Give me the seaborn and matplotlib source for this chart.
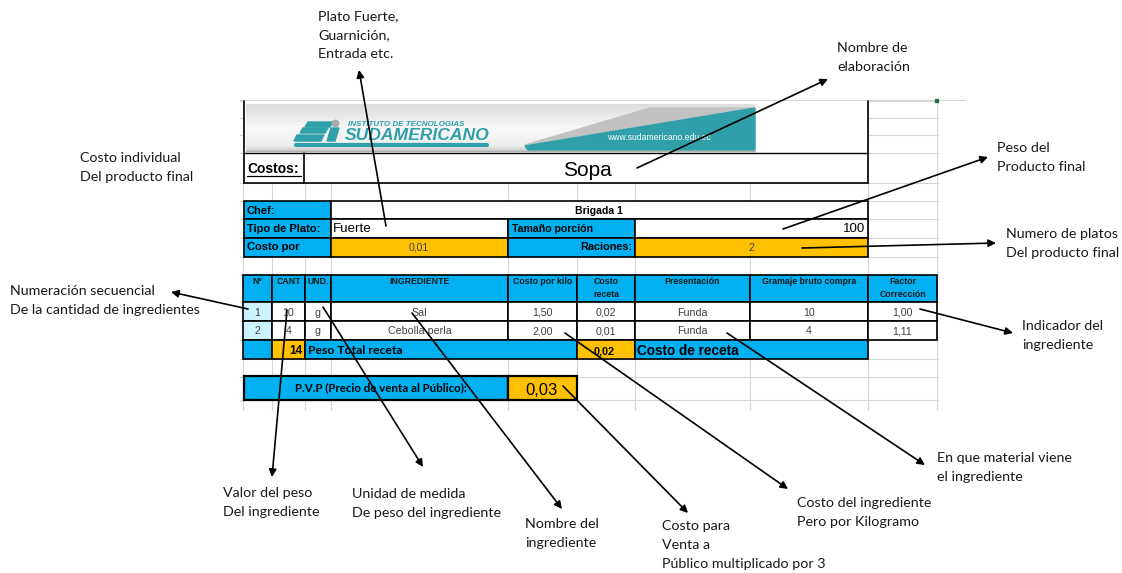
import numpy as np
import matplotlib
matplotlib.use("Agg")
import matplotlib.pyplot as plt
import seaborn as sns
from matplotlib.patches import Rectangle, Polygon, Circle

sns.set_theme(style="white")
plt.rcParams['font.family'] = ['Liberation Sans', 'DejaVu Sans']

# ---------------- data ----------------
dish_name = "Sopa"
chef_name = "Brigada 1"
dish_type = "Fuerte"
portion_size = "100"
unit_cost = "0,01"
servings = "2"
headers = ["N°", "CANT", "UND.", "INGREDIENTE", "Costo por kilo", "Costo\nreceta",
           "Presentación", "Gramaje bruto compra", "Factor\nCorrección"]
item_no = ["1", "2"]
quantity = ["10", "4"]
units = ["g", "g"]
ingredients = ["Sal", "Cebolla perla"]
cost_per_kilo = ["1,50", "2,00"]
recipe_cost = ["0,02", "0,01"]
presentation = ["Funda", "Funda"]
gross_weight = ["10", "4"]
correction_factor = ["1,00", "1,11"]
total_weight = "14"
total_cost = "0,02"
pvp_value = "0,03"

notes = [
    "Plato Fuerte,\nGuarnición,\nEntrada etc.",
    "Nombre de\nelaboración",
    "Costo individual\nDel producto final",
    "Peso del\nProducto final",
    "Numero de platos\nDel producto final",
    "Numeración secuencial\nDe la cantidad de ingredientes",
    "Indicador del\ningrediente",
    "En que material viene\nel ingrediente",
    "Valor del peso\nDel ingrediente",
    "Unidad de medida\nDe peso del ingrediente",
    "Nombre del\ningrediente",
    "Costo para\nVenta a\nPúblico multiplicado por 3",
    "Costo del ingrediente\nPero por Kilogramo",
]

# ---------------- layout / style ----------------
W, H = 1122, 573
BLUE = "#00b0f0"
ORANGE = "#ffc000"
CYAN = "#cdf3fd"
TEAL = "#2fa0aa"
GRID = "#d6d6d6"
TXT = "#404040"
ANN_FONT = ["Lato", "DejaVu Sans"]

fig = plt.figure(figsize=(W / 100, H / 100), dpi=100)
ax = fig.add_axes([0, 0, 1, 1])
ax.set_xlim(0, W)
ax.set_ylim(H, 0)
ax.axis("off")


def cell(x0, x1, y0, y1, fc="white", ec="black", lw=1.2, z=2):
    ax.add_patch(Rectangle((x0, y0), x1 - x0, y1 - y0, facecolor=fc,
                           edgecolor=ec, lw=lw, zorder=z))


def txt(x, y, s, size, ha="left", weight="normal", color="black", va="baseline", **kw):
    ax.text(x, y, s, fontsize=size, ha=ha, va=va, fontweight=weight, color=color,
            zorder=6, **kw)


# spreadsheet gridlines
cols = [243, 272, 305, 331, 508, 577, 635, 750, 868, 937]
rows = [101, 118, 135, 153, 183, 201, 219, 238, 257, 275, 302, 321, 340, 359, 377, 400]
for x in cols:
    ax.plot([x, x], [100, 410], color=GRID, lw=0.8, zorder=1)
for y in rows:
    ax.plot([240, 938], [y, y], color=GRID, lw=0.8, zorder=1)
ax.plot([240, 965], [100, 100], color=GRID, lw=0.8, zorder=1)
ax.add_patch(Rectangle((935, 99), 3, 3, color="#217346", zorder=3))

# ---------------- top block (logo + Costos) ----------------
cell(244, 868, 101, 183, fc="white", ec="none", lw=0)
grad = np.linspace(0, 1, 60)[:, None]
vals = np.interp(grad, [0, 0.55, 0.9, 1], [0.87, 0.97, 0.93, 0.80])
ax.imshow(np.dstack([vals, vals, vals]) * np.ones((1, 10, 1)),
          extent=(246, 755, 151, 104), aspect="auto", zorder=2.5)
# logo stripes
for (xa, xb, ya, yb) in [(306, 331, 122, 127), (301, 326, 128, 133), (295, 322, 135, 141)]:
    ax.add_patch(Polygon([(xa + 2, ya), (xb + 2, ya), (xb - 1, yb), (xa - 1, yb)],
                         closed=True, color=TEAL, zorder=3))
ax.add_patch(Circle((335.5, 123.5), 3.2, color="#a9a9a9", zorder=3))
ax.add_patch(Polygon([(331, 128), (339, 128), (335, 141), (327, 141)], closed=True,
                     color=TEAL, zorder=3))
ax.plot([296, 487], [145, 145], color=TEAL, lw=3, solid_capstyle="round", zorder=3)
txt(348, 126, "INSTITUTO DE TECNOLOGIAS", 5.8, weight="bold", color=TEAL, style="italic")
txt(345, 140.5, "SUDAMERICANO", 12.6, weight="bold", color=TEAL, style="italic")
# right banner
ax.add_patch(Polygon([(525, 145), (650, 108), (755, 108)], closed=True,
                     color="#c2c2c2", zorder=3))
ax.add_patch(Polygon([(528, 150), (525, 146), (755, 108), (755, 150)], closed=True,
                     color=TEAL, zorder=3))
txt(607, 140, "www.sudamericano.edu.ec", 6.2, color="white")
ax.plot([246, 755], [151, 151], color="#b0b0b0", lw=1, zorder=3)
# borders
ax.plot([244, 244], [101, 183], color="black", lw=1.2, zorder=4)
ax.plot([868, 868], [101, 183], color="black", lw=1.2, zorder=4)
ax.plot([244, 868], [152.5, 152.5], color="black", lw=1.0, zorder=4)
ax.plot([244, 868], [183, 183], color="black", lw=1.2, zorder=4)
ax.plot([304, 304], [152.5, 183], color="black", lw=1.2, zorder=4)
txt(247, 173, "Costos:", 10, weight="bold")
ax.plot([247, 301], [175.5, 175.5], color="black", lw=0.9, zorder=6)
txt(587, 176, dish_name, 15, ha="center")

# ---------------- chef block ----------------
cell(244, 331, 201, 219, BLUE)
cell(331, 868, 201, 219, "white")
cell(244, 331, 219, 238, BLUE)
cell(331, 508, 219, 238, "white")
cell(508, 635, 219, 238, BLUE)
cell(635, 868, 219, 238, "white")
cell(244, 331, 238, 257, BLUE)
cell(331, 508, 238, 257, ORANGE)
cell(508, 635, 238, 257, BLUE)
cell(635, 868, 238, 257, ORANGE)
txt(247, 213.5, "Chef:", 8, weight="bold")
txt(247, 232, "Tipo de Plato:", 8, weight="bold")
txt(247, 250, "Costo por", 8, weight="bold")
txt(599, 213.5, chef_name, 7.6, ha="center", weight="bold")
txt(333, 232.5, dish_type, 9.6)
txt(512, 232, "Tamaño porción", 7.6, weight="bold")
txt(632, 250.5, "Raciones:", 7.8, ha="right", weight="bold")
txt(865, 232.5, portion_size, 9.5, ha="right")
txt(419, 251, unit_cost, 7.6, ha="center", color=TXT)
txt(751, 251, servings, 7.6, ha="center", color=TXT)

# ---------------- ingredient table ----------------
tcols = cols
for i in range(len(headers)):
    cell(tcols[i], tcols[i + 1], 275, 302, BLUE)
    lines = headers[i].split("\n")
    for k, line in enumerate(lines):
        txt((tcols[i] + tcols[i + 1]) / 2, 284 + 13 * k, line, 6.3, ha="center",
            weight="bold", color="#1a1a1a")

table_cols = [item_no, quantity, units, ingredients, cost_per_kilo, recipe_cost,
              presentation, gross_weight, correction_factor]
row_tops = [302, 321]
for r, y0 in enumerate(row_tops):
    for i, colvals in enumerate(table_cols):
        cell(tcols[i], tcols[i + 1], y0, y0 + 19, CYAN if i == 0 else "white")
        txt((tcols[i] + tcols[i + 1]) / 2, y0 + 13.5, colvals[r], 7.7, ha="center",
            color=TXT)

# total row
cell(243, 272, 340, 359, BLUE)
cell(272, 305, 340, 359, ORANGE)
cell(305, 577, 340, 359, BLUE)
cell(577, 635, 340, 359, ORANGE)
cell(635, 868, 340, 359, BLUE)
txt(303, 354, total_weight, 8.6, ha="right", weight="bold")
txt(308, 354, "Peso Total receta", 8.8, weight="bold", family=ANN_FONT)
txt(604, 354, total_cost, 7.8, ha="center", weight="bold")
txt(637, 355, "Costo de receta", 9.8, weight="bold")

# PVP row
cell(244, 508, 376, 400, BLUE, lw=1.6)
cell(508, 577, 376, 400, ORANGE, lw=1.6)
txt(381, 391, "P.V.P (Precio de venta al Público):", 8.3, ha="center", weight="bold",
    family=ANN_FONT)
txt(542, 395, pvp_value, 12, ha="center")

# ---------------- annotations ----------------
note_pos = [
    (318, 20), (837, 52), (80, 162), (997, 152), (1006, 238), (10, 295),
    (1022, 330), (937, 462), (223, 497), (352, 498), (525, 528), (662, 530),
    (797, 507),
]
arrows = [
    ((386, 226), (359, 70)),
    ((637, 168), (828, 79)),
    None,
    ((783, 229), (988, 157)),
    ((802, 248), (996, 243)),
    ((248, 309), (171, 292)),
    ((920, 309), (1013, 333)),
    ((727, 333), (925, 465)),
    ((287, 310), (272, 477)),
    ((323, 307), (423, 467)),
    ((412, 313), (562, 509)),
    ((563, 386), (688, 513)),
    ((565, 333), (788, 489)),
]
for s, (x, y), arr in zip(notes, note_pos, arrows):
    for k, line in enumerate(s.split("\n")):
        ax.text(x, y + 19 * k, line, fontsize=10.3, family=ANN_FONT, color="#1a1a1a",
                ha="left", va="baseline", zorder=7)
    if arr is not None:
        ax.annotate("", xy=arr[1], xytext=arr[0],
                    arrowprops=dict(arrowstyle="-|>", color="black", lw=1.2,
                                    mutation_scale=11, shrinkA=0, shrinkB=0),
                    zorder=8)

fig.savefig("out.png", dpi=100, facecolor="white")
